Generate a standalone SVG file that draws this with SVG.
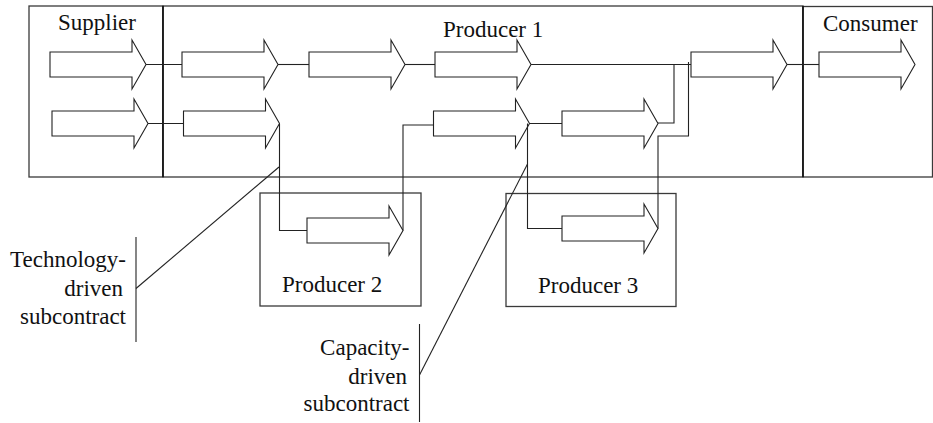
<svg xmlns="http://www.w3.org/2000/svg" xmlns:xlink="http://www.w3.org/1999/xlink" width="933" height="423" viewBox="0 0 933 423">
  <style>
    .box { fill: #ffffff; stroke: #3a3a3a; stroke-width: 1.3; }
    .div { stroke: #111111; stroke-width: 1.6; fill: none; }
    .flow { fill: #ffffff; stroke: #222222; stroke-width: 1.1; stroke-linejoin: miter; }
    .wire { fill: none; stroke: #222222; stroke-width: 1.1; }
    text { font-family: 'Liberation Serif', 'DejaVu Serif', serif; font-size: 23px; fill: #111111; }
    .note { text-anchor: end; }
  </style>
  <defs>
    <!-- block arrow, origin at the left end of its centre line -->
    <path id="blk" d="M0,-12.5 H82 V-24.5 L96,0 L82,24.5 V12.5 H0 Z"/>
  </defs>

  <!-- Supplier -->
  <g id="supplier">
    <rect class="box" x="29" y="6" width="134" height="171"/>
    <text x="58" y="30">Supplier</text>
    <use href="#blk" class="flow" transform="translate(50,64.5)"/>
    <use href="#blk" class="flow" transform="translate(52,123.5)"/>
  </g>

  <!-- Producer 1 -->
  <g id="producer1">
    <rect class="box" x="163" y="6" width="640" height="171"/>
    <text x="443" y="37">Producer 1</text>
    <use href="#blk" class="flow" transform="translate(182,64.5)"/>
    <use href="#blk" class="flow" transform="translate(309,64.5)"/>
    <use href="#blk" class="flow" transform="translate(435,64.5)"/>
    <use href="#blk" class="flow" transform="translate(691,64.5)"/>
    <use href="#blk" class="flow" transform="translate(183.5,123.5)"/>
    <use href="#blk" class="flow" transform="translate(433.5,123.5)"/>
    <use href="#blk" class="flow" transform="translate(562,123.5)"/>
  </g>

  <!-- Consumer -->
  <g id="consumer">
    <rect class="box" x="803" y="6.5" width="129.5" height="170.5"/>
    <text x="823" y="30.5">Consumer</text>
    <use href="#blk" class="flow" transform="translate(819,64.5)"/>
  </g>

  <!-- Producer 2 -->
  <g id="producer2">
    <rect class="box" x="260" y="193" width="161" height="113"/>
    <text x="282" y="292">Producer 2</text>
    <use href="#blk" class="flow" transform="translate(307,230.5)"/>
  </g>

  <!-- Producer 3 -->
  <g id="producer3">
    <rect class="box" x="506" y="193.5" width="170" height="113"/>
    <text x="538" y="293">Producer 3</text>
    <use href="#blk" class="flow" transform="translate(562,228.5)"/>
  </g>

  <!-- company boundaries drawn on top -->
  <line class="div" x1="163" y1="6" x2="163" y2="177"/>
  <line class="div" x1="803" y1="6" x2="803" y2="177"/>

  <!-- flow connections -->
  <g id="connectors">
    <line class="wire" x1="146" y1="64.5" x2="182" y2="64.5"/>
    <line class="wire" x1="278" y1="64.5" x2="309" y2="64.5"/>
    <line class="wire" x1="405" y1="64.5" x2="435" y2="64.5"/>
    <line class="wire" x1="531" y1="64.5" x2="691" y2="64.5"/>
    <line class="wire" x1="787" y1="64.5" x2="819" y2="64.5"/>
    <line class="wire" x1="148" y1="123.5" x2="183.5" y2="123.5"/>
    <!-- out to Producer 2 and back -->
    <polyline class="wire" points="279.5,123.5 279.5,230.5 307,230.5"/>
    <polyline class="wire" points="403,230.5 403,125 433.5,125"/>
    <!-- Producer 1 lower line -->
    <line class="wire" x1="529.5" y1="123.5" x2="562" y2="123.5"/>
    <!-- out to Producer 3 and back -->
    <polyline class="wire" points="527.5,123.5 527.5,228.5 562,228.5"/>
    <polyline class="wire" points="658,228.5 658,136 688.5,136 688.5,62"/>
    <polyline class="wire" points="658,123 674,123 674,64.5"/>
  </g>

  <!-- annotations -->
  <g id="tech-note">
    <text class="note" x="126" y="267">Technology-</text>
    <text class="note" x="123" y="296">driven</text>
    <text class="note" x="126" y="324">subcontract</text>
    <line class="wire" x1="136" y1="237" x2="136" y2="342"/>
    <line class="wire" x1="136" y1="288.5" x2="279" y2="167"/>
  </g>
  <g id="capacity-note">
    <text class="note" x="409.5" y="355">Capacity-</text>
    <text class="note" x="407" y="383.5">driven</text>
    <text class="note" x="409.5" y="411">subcontract</text>
    <line class="wire" x1="419.5" y1="324" x2="419.5" y2="422"/>
    <line class="wire" x1="419.5" y1="375" x2="527.5" y2="164"/>
  </g>
</svg>
